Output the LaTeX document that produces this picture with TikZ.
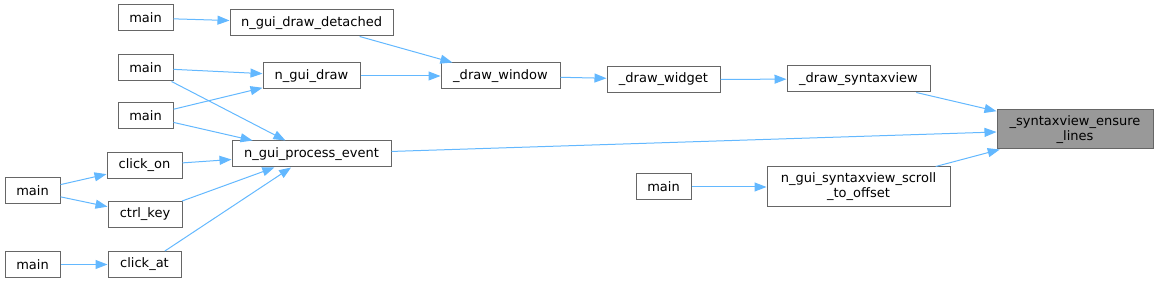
\documentclass[tikz,border=0pt]{standalone}
\usepackage{fontspec}
\setmainfont{DejaVu Sans}
\usetikzlibrary{arrows.meta}
\definecolor{edgeblue}{HTML}{63B8FF}
\definecolor{boxborder}{HTML}{666666}
\definecolor{hlfill}{HTML}{999999}
\tikzset{
  fn/.style={draw=boxborder, line width=1pt, fill=white, inner sep=0pt, minimum height=26pt,
    font=\fontsize{13}{15}\selectfont, align=center, text=black},
  hl/.style={fn, fill=hlfill},
  call/.style={draw=edgeblue, line width=1pt, -{Triangle[length=12pt,width=9pt]}}
}
\begin{document}
\begin{tikzpicture}[x=1pt,y=-1pt]
\useasboundingbox (0,0) rectangle (1157,283);
% nodes
\node[fn, minimum width=55pt] (m1) at (145.5,18) {main};
\node[fn, minimum width=163pt] (det) at (311.5,23) {n\_gui\_draw\_detached};
\node[fn, minimum width=55pt] (m2) at (145.5,68) {main};
\node[fn, minimum width=97pt] (ngd) at (311.5,76) {n\_gui\_draw};
\node[fn, minimum width=55pt] (m3) at (145.5,116) {main};
\node[fn, minimum width=159pt] (pe) at (311.5,154) {n\_gui\_process\_event};
\node[fn, minimum width=75pt] (con) at (144.5,165.5) {click\_on};
\node[fn, minimum width=55pt] (m4) at (32.5,191) {main};
\node[fn, minimum width=74pt] (ck) at (145,214.5) {ctrl\_key};
\node[fn, minimum width=55pt] (m5) at (32.5,264.5) {main};
\node[fn, minimum width=73pt] (cat) at (144.5,264.5) {click\_at};
\node[fn, minimum width=119pt] (win) at (500.5,76) {\_draw\_window};
\node[fn, minimum width=113pt] (wid) at (663.5,79.5) {\_draw\_widget};
\node[fn, minimum width=143pt] (syn) at (858.5,79) {\_draw\_syntaxview};
\node[hl, minimum width=156pt, minimum height=39pt] (ens) at (1075,129.5) {\_syntaxview\_ensure\\\_lines};
\node[fn, minimum width=55pt] (m6) at (663.5,187) {main};
\node[fn, minimum width=183pt, minimum height=40pt] (scr) at (858.5,187) {n\_gui\_syntaxview\_scroll\\\_to\_offset};
% edges
\draw[call] (m1) -- (det);
\draw[call] (m2) -- (ngd);
\draw[call] (m2) -- (pe);
\draw[call] (m3) -- (ngd);
\draw[call] (m3) -- (pe);
\draw[call] (det) -- (win);
\draw[call] (ngd) -- (win);
\draw[call] (win) -- (wid);
\draw[call] (wid) -- (syn);
\draw[call] (syn) -- (ens);
\draw[call] (pe) -- (ens);
\draw[call] (scr) -- (ens);
\draw[call] (m6) -- (scr);
\draw[call] (con) -- (pe);
\draw[call] (ck) -- (pe);
\draw[call] (cat) -- (pe);
\draw[call] (m4) -- (con);
\draw[call] (m4) -- (ck);
\draw[call] (m5) -- (cat);
\end{tikzpicture}
\end{document}
